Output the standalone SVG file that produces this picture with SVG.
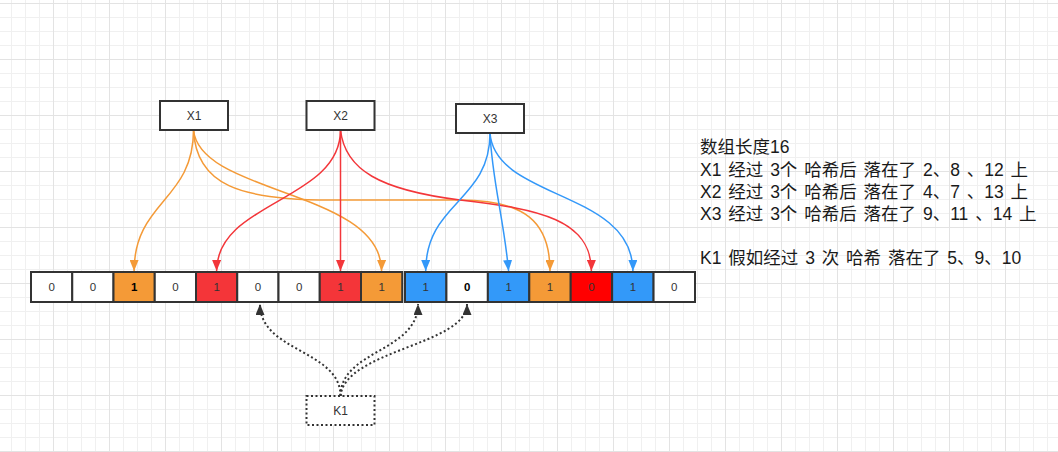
<svg xmlns="http://www.w3.org/2000/svg" width="1058" height="452" viewBox="0 0 1058 452">
<style>
.cell{stroke:#333;stroke-width:2}
.w{fill:#fff}.o{fill:#F49A37}.r{fill:#F43539}.rr{fill:#FF0000}.b{fill:#3399F9}
.ct{font-family:"Liberation Sans",Arial,sans-serif;font-size:11.5px;fill:#333;text-anchor:middle}
.ctb{fill:#000;font-weight:bold}
.node{fill:#fff;stroke:#333;stroke-width:2}
.nt{font-family:"Liberation Sans",Arial,sans-serif;font-size:12px;fill:#333;text-anchor:middle}
.e{fill:none;stroke-width:1.5}
.eo{stroke:#F49A37}.er{stroke:#F3363A}.eb{stroke:#3398F9}
.ed{fill:none;stroke:#333;stroke-width:2;stroke-dasharray:2 2.5}
.note{font-family:"Liberation Sans","Noto Sans CJK SC",sans-serif;font-size:17.5px;fill:#1a1a1a;word-spacing:2px}
</style>
<defs>
<pattern id="minor" patternUnits="userSpaceOnUse" x="11" y="3" width="14" height="14"><path d="M0.5 0V14M0 0.5H14" stroke="#f0f0f0" stroke-width="1" fill="none"/></pattern>
<pattern id="major" patternUnits="userSpaceOnUse" x="53" y="3" width="56" height="56"><path d="M0.5 0V56M0 0.5H56" stroke="#e3e3e3" stroke-width="1" fill="none"/></pattern>
<marker id="ao" viewBox="0 0 10 10" refX="10" refY="5" markerWidth="11" markerHeight="9" markerUnits="userSpaceOnUse" orient="auto" preserveAspectRatio="none"><path d="M0 0L10 5L0 10z" fill="#F49A37"/></marker>
<marker id="ar" viewBox="0 0 10 10" refX="10" refY="5" markerWidth="11" markerHeight="9" markerUnits="userSpaceOnUse" orient="auto" preserveAspectRatio="none"><path d="M0 0L10 5L0 10z" fill="#F3363A"/></marker>
<marker id="ab" viewBox="0 0 10 10" refX="10" refY="5" markerWidth="11" markerHeight="9" markerUnits="userSpaceOnUse" orient="auto" preserveAspectRatio="none"><path d="M0 0L10 5L0 10z" fill="#3398F9"/></marker>
<marker id="ak" viewBox="0 0 10 10" refX="10" refY="5" markerWidth="11" markerHeight="9" markerUnits="userSpaceOnUse" orient="auto" preserveAspectRatio="none"><path d="M0 0L10 5L0 10z" fill="#333"/></marker>
</defs>
<rect width="1058" height="452" fill="#fff"/>
<rect width="1058" height="452" fill="url(#minor)"/>
<rect width="1058" height="452" fill="url(#major)"/>

<g id="array">
<rect class="cell w" x="31" y="272" width="41.25" height="30"/><text class="ct" x="51.6" y="291">0</text>
<rect class="cell w" x="72.25" y="272" width="41.25" height="30"/><text class="ct" x="92.9" y="291">0</text>
<rect class="cell o" x="113.5" y="272" width="41.25" height="30"/><text class="ct ctb" x="134.1" y="291">1</text>
<rect class="cell w" x="154.75" y="272" width="41.25" height="30"/><text class="ct" x="175.4" y="291">0</text>
<rect class="cell r" x="196" y="272" width="41.25" height="30"/><text class="ct" x="216.6" y="291">1</text>
<rect class="cell w" x="237.25" y="272" width="41.25" height="30"/><text class="ct" x="257.9" y="291">0</text>
<rect class="cell w" x="278.5" y="272" width="41.25" height="30"/><text class="ct" x="299.1" y="291">0</text>
<rect class="cell r" x="319.75" y="272" width="41.25" height="30"/><text class="ct" x="340.4" y="291">1</text>
<rect class="cell o" x="361" y="272" width="41.25" height="30"/><text class="ct" x="381.6" y="291">1</text>
<rect class="cell b" x="405" y="272" width="41.43" height="30"/><text class="ct" x="425.7" y="291">1</text>
<rect class="cell w" x="446.43" y="272" width="41.43" height="30"/><text class="ct ctb" x="467.1" y="291">0</text>
<rect class="cell b" x="487.86" y="272" width="41.43" height="30"/><text class="ct" x="508.6" y="291">1</text>
<rect class="cell o" x="529.29" y="272" width="41.43" height="30"/><text class="ct" x="550" y="291">1</text>
<rect class="cell rr" x="570.71" y="272" width="41.43" height="30"/><text class="ct" x="591.4" y="291">0</text>
<rect class="cell b" x="612.14" y="272" width="41.43" height="30"/><text class="ct" x="632.9" y="291">1</text>
<rect class="cell w" x="653.57" y="272" width="41.43" height="30"/><text class="ct" x="674.3" y="291">0</text>
</g>

<g id="connectors">
<path class="e eo" marker-end="url(#ao)" d="M193.5,130 C193.5,201 134.1,201 134.1,271"/>
<path class="e eo" marker-end="url(#ao)" d="M193.5,130 C200,195 381.6,190 381.6,271"/>
<path class="e eo" marker-end="url(#ao)" d="M193.5,130 C196,185 240,200 330,200 L460,200 C525,200 550,222 550,271"/>
<path class="e er" marker-end="url(#ar)" d="M340.5,130 C340.5,201 216.6,201 216.6,271"/>
<path class="e er" marker-end="url(#ar)" d="M340.5,130 L340.5,271"/>
<path class="e er" marker-end="url(#ar)" d="M340.5,130 C345,170 380,190 460,200 C540,209 591.4,220 591.4,271"/>
<path class="e eb" marker-end="url(#ab)" d="M490,133 C490,202 425.7,202 425.7,271"/>
<path class="e eb" marker-end="url(#ab)" d="M490,133 C492,180 504,220 508.6,271"/>
<path class="e eb" marker-end="url(#ab)" d="M490,133 C495,200 632.9,190 632.9,271"/>
<path class="ed" marker-end="url(#ak)" d="M340.5,396 C340.5,350 260,352 260,304"/>
<path class="ed" marker-end="url(#ak)" d="M340.5,396 C340.5,350 418,352 418,304"/>
<path class="ed" marker-end="url(#ak)" d="M340.5,396 C345,350 467,345 467,304"/>
</g>

<g id="X1"><rect class="node" x="160" y="101" width="68" height="29"/><text class="nt" x="194" y="119.5">X1</text></g>
<g id="X2"><rect class="node" x="306.5" y="101" width="68" height="29"/><text class="nt" x="340.5" y="119.5">X2</text></g>
<g id="X3"><rect class="node" x="456" y="104" width="68" height="29"/><text class="nt" x="490" y="122.5">X3</text></g>
<g id="K1"><rect x="306.5" y="396" width="68" height="29" fill="#fff" stroke="#333" stroke-width="2" stroke-dasharray="2 2.5"/><text class="nt" x="340.5" y="414.5">K1</text></g>

<g id="notes">
<text class="note" x="700" y="153">数组长度16</text>
<text class="note" x="700" y="176">X1 经过 3个 哈希后 落在了 2、8 、12 上</text>
<text class="note" x="700" y="198">X2 经过 3个 哈希后 落在了 4、7 、13 上</text>
<text class="note" x="700" y="220">X3 经过 3个 哈希后 落在了 9、11 、14 上</text>
<text class="note" x="700" y="263.5">K1 假如经过 3 次 哈希 落在了 5、9、10</text>
</g>
</svg>
